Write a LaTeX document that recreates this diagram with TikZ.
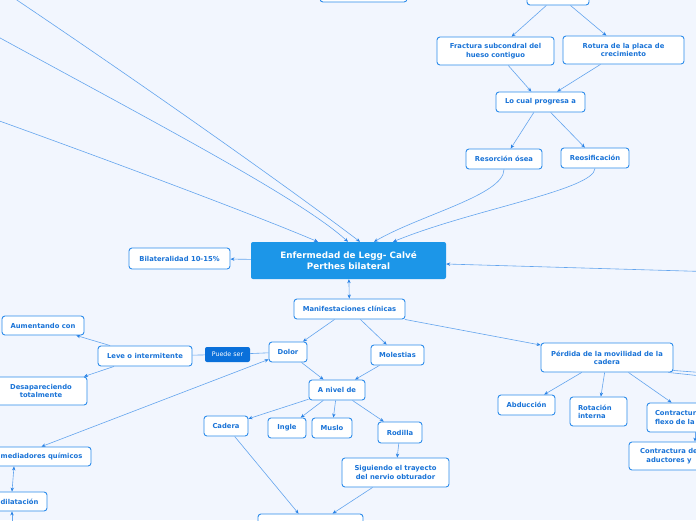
\documentclass[tikz,border=0pt]{standalone}
\usepackage{fontspec}
\setmainfont{DejaVu Sans}
\usetikzlibrary{arrows.meta}
\definecolor{fondo}{RGB}{242,246,254}
\definecolor{borde}{RGB}{45,140,235}
\definecolor{texto}{RGB}{25,115,215}
\definecolor{azullinea}{RGB}{100,165,238}
\definecolor{punta}{RGB}{40,130,230}
\definecolor{central}{RGB}{28,150,232}
\definecolor{etiqueta}{RGB}{10,112,218}
\tikzset{
  idea/.style={draw=borde, line width=0.9pt, fill=white, rounded corners=3pt, text=texto,
    font=\bfseries\fontsize{6.8}{8.3}\selectfont, align=center, inner sep=2pt},
  tema/.style={fill=central, rounded corners=2pt, text=white,
    font=\bfseries\fontsize{8.8}{11}\selectfont, align=center},
  frase/.style={fill=etiqueta, rounded corners=2pt, text=white,
    font=\fontsize{6.3}{7.5}\selectfont, inner sep=2pt},
  linea/.style={draw=azullinea, line width=0.6pt},
  enlace/.style={linea, -{Stealth[length=4pt,width=3.4pt,color=punta]}},
  doble/.style={linea, {Stealth[length=4pt,width=3.4pt,color=punta]}-{Stealth[length=4pt,width=3.4pt,color=punta]}},
}
\begin{document}
\begin{tikzpicture}[x=1pt, y=-1pt]
\path[use as bounding box, fill=fondo] (0,0) rectangle (696,520);
\clip (0,0) rectangle (696,520);

% ideas de arriba
\node[idea, minimum width=87pt, minimum height=20pt] (arribaizq) at (363.5,-8) {};
\node[idea, minimum width=62pt, minimum height=20pt] (arribader) at (558,-5) {};
\node[idea, minimum width=117pt, minimum height=28pt] (fractura) at (495.5,51) {Fractura subcondral del\\hueso contiguo};
\node[idea, minimum width=121pt, minimum height=28pt] (rotura) at (623.5,50) {Rotura de la placa de\\crecimiento};
\node[idea, minimum width=89pt, minimum height=20pt] (locual) at (540.5,102) {Lo cual progresa a};
\node[idea, minimum width=76pt, minimum height=20pt] (resorcion) at (504,159) {Resorción ósea};
\node[idea, minimum width=68pt, minimum height=20pt] (reosif) at (595,158) {Reosificación};

% tema central
\node[tema, minimum width=195pt, minimum height=37pt] (central) at (348.5,260.5) {Enfermedad de Legg- Calvé\\Perthes bilateral};
\node[idea, minimum width=101pt, minimum height=21pt] (bilateral) at (179.5,258.5) {Bilateralidad 10-15\%};
\node[idea, minimum width=111pt, minimum height=20pt] (manif) at (349.5,309) {Manifestaciones clínicas};

% dolor
\node[idea, minimum width=38pt, minimum height=20pt] (dolor) at (288,352) {Dolor};
\node[frase, minimum width=45pt, minimum height=15pt] (puede) at (227.5,354.5) {Puede ser};
\node[idea, minimum width=94pt, minimum height=20pt] (leve) at (145,356) {Leve o intermitente};
\node[idea, minimum width=82pt, minimum height=19pt] (aumenta) at (43,325.5) {Aumentando con};
\node[idea, minimum width=92pt, minimum height=28pt] (desaparece) at (41,391) {Desapareciendo\\totalmente};
\node[idea, minimum width=99pt, minimum height=19pt] (mediadores) at (41.5,456.5) {mediadores químicos};
\node[idea, minimum width=55pt, minimum height=19pt] (dilata) at (19.5,501.5) {dilatación};
\coordinate (abajoizq) at (12,530);

% localizacion
\node[idea, minimum width=53pt, minimum height=20pt] (molestias) at (397.5,355) {Molestias};
\node[idea, minimum width=56pt, minimum height=20pt] (nivel) at (337,390) {A nivel de};
\node[idea, minimum width=44pt, minimum height=20pt] (cadera) at (226,426) {Cadera};
\node[idea, minimum width=38pt, minimum height=20pt] (ingle) at (287,428) {Ingle};
\node[idea, minimum width=40pt, minimum height=20pt] (muslo) at (332,428) {Muslo};
\node[idea, minimum width=44pt, minimum height=21pt] (rodilla) at (400,432.5) {Rodilla};
\node[idea, minimum width=107pt, minimum height=29pt] (nervio) at (395.5,472.5) {Siguiendo el trayecto\\del nervio obturador};
\node[idea, minimum width=105pt, minimum height=28pt] (abajo) at (310.5,528) {};

% movilidad
\node[idea, minimum width=132pt, minimum height=29pt] (perdida) at (607,357.5) {Pérdida de la movilidad de la\\cadera};
\node[idea, minimum width=57pt, minimum height=20pt] (abduccion) at (526.5,405) {Abducción};
\node[idea, text width=41pt, inner xsep=8pt, align=left, minimum height=29pt] (rotacion) at (598.5,411.5) {Rotación\\interna};
\node[idea, text width=76pt, inner xsep=8pt, align=left, minimum height=29pt] (flexo) at (693,417.5) {Contractura\\flexo de la};
\node[idea, minimum width=80pt, minimum height=28pt] (aductores) at (669,456) {Contractura de\\aductores y};

% puntos fuera del lienzo
\coordinate (fuera1) at (-10,-18);
\coordinate (fuera2) at (-20,27);
\coordinate (fuera3) at (-20,114);
\coordinate (fuerader) at (720,272);
\coordinate (fuerader1) at (720,378);
\coordinate (fuerader2) at (720,374);

% conectores
\draw[enlace] (arribader) -- (fractura);
\draw[enlace] (arribader) -- (rotura);
\draw[enlace] (fractura) -- (locual);
\draw[enlace] (rotura) -- (locual);
\draw[enlace] (locual) -- (resorcion);
\draw[enlace] (locual) -- (reosif);
\draw[enlace] (resorcion.south) .. controls (504,195) and (420,215) .. ([xshift=25.5pt]central.north);
\draw[enlace] (reosif.south) .. controls (594,190) and (470,210) .. ([xshift=44.5pt]central.north);
\draw[enlace] (fuera1) .. controls (150,89) and (300,196) .. ([xshift=11.5pt]central.north);
\draw[enlace] (fuera2) .. controls (150,120) and (300,198) .. ([xshift=-0.5pt]central.north);
\draw[enlace] (fuera3) .. controls (100,157) and (250,213) .. ([xshift=-30.5pt]central.north);
\draw[enlace] (fuerader) -- ([yshift=-3.5pt]central.east);
\draw[enlace] (central) -- (bilateral);
\draw[doble] (central) -- (manif);

\draw[enlace] (manif) -- (dolor);
\draw[enlace] (manif) -- (molestias);
\draw[enlace] (manif) -- (perdida);
\draw[linea] (dolor) -- (puede);
\draw[linea] (puede) -- (leve);
\draw[enlace] (leve) -- (aumenta);
\draw[enlace] (leve) -- (desaparece);
\draw[doble] (mediadores.north) -- (dolor);
\draw[doble] ([xshift=-27.5pt]mediadores.south) -- ([xshift=-7.5pt]dilata.north);
\draw[enlace] (abajoizq) -- ([xshift=-7.5pt]dilata.south);

\draw[enlace] (dolor) -- (nivel);
\draw[enlace] (molestias) -- (nivel);
\draw[enlace] (nivel) -- (cadera);
\draw[enlace] (nivel) -- (ingle);
\draw[enlace] (nivel) -- (muslo);
\draw[enlace] (nivel) -- (rodilla);
\draw[enlace] (rodilla) -- (nervio);
\draw[enlace] (cadera) -- (abajo);
\draw[enlace] (nervio) -- (abajo);

\draw[enlace] (perdida) -- (abduccion);
\draw[enlace] (perdida) -- (rotacion);
\draw[enlace] (perdida) -- (flexo);
\draw[enlace] ([xshift=2pt]flexo.south) -- ([xshift=26pt]aductores.north);
\draw[enlace] ([xshift=-5pt]perdida.south east) -- (fuerader1);
\draw[enlace] ([yshift=2pt]perdida.south east) -- (fuerader2);
\end{tikzpicture}
\end{document}
